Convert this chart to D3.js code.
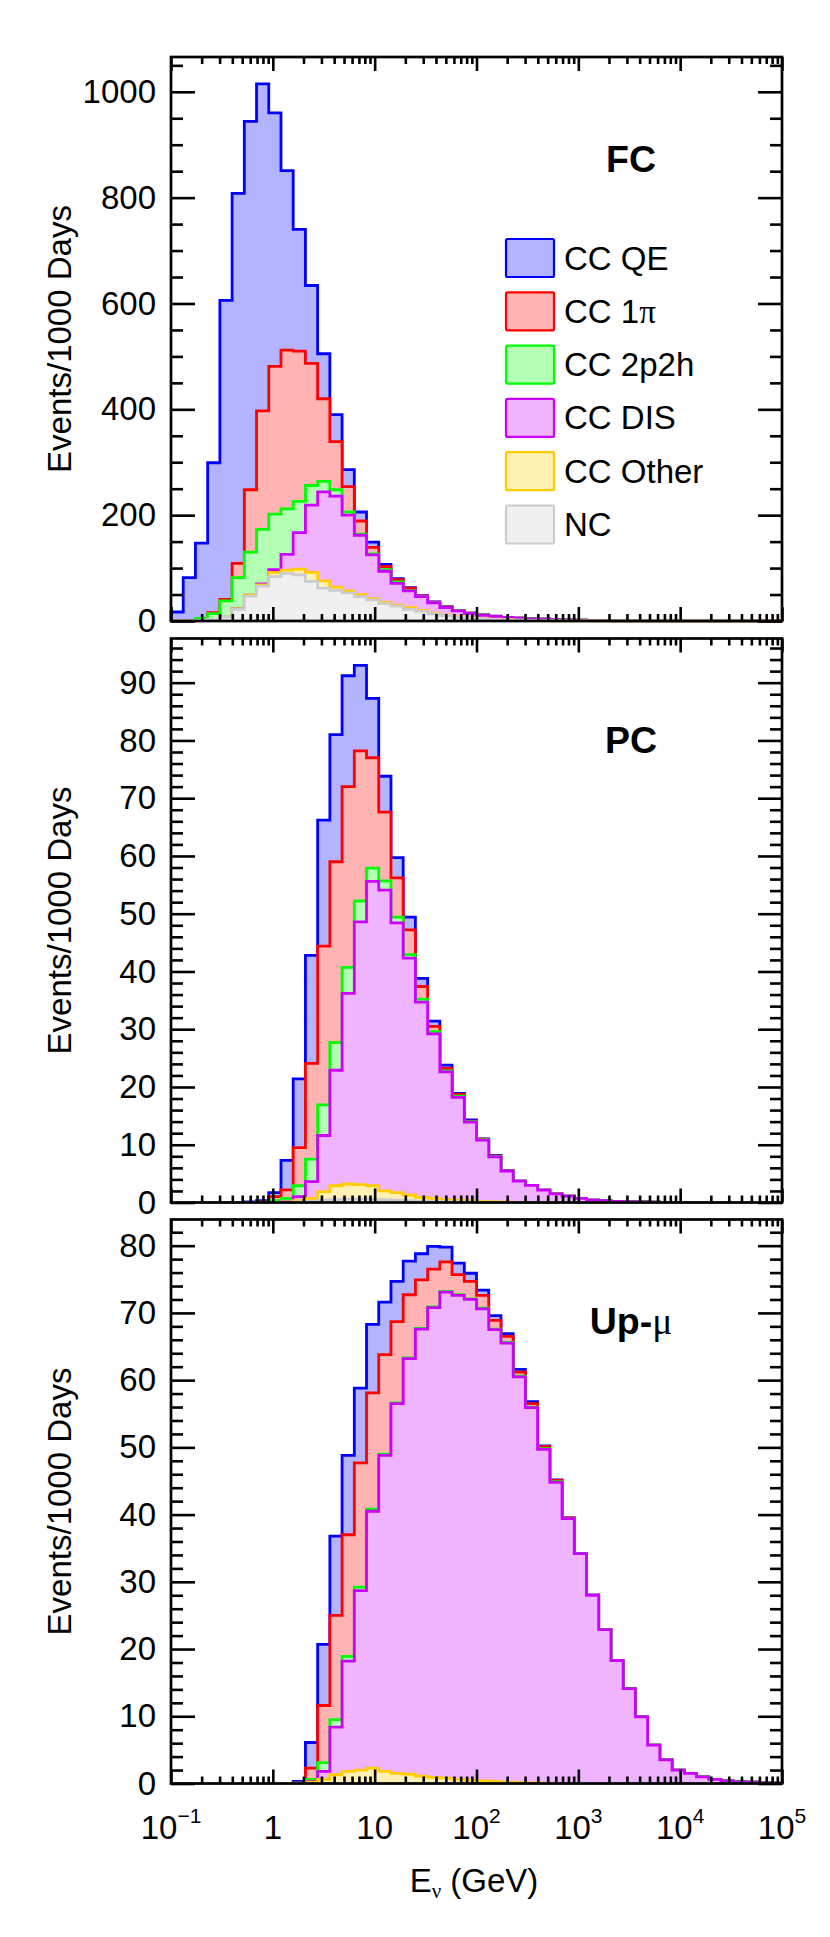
<!DOCTYPE html>
<html>
<head>
<meta charset="utf-8">
<script src="https://cdn.jsdelivr.net/npm/d3@7"></script>
<style>
  body { margin: 0; background: #fff; }
  svg { display: block; }
</style>
</head>
<body>
<div id="chart"></div>
<script>
// 50 log-spaced energy bins, 0.1 GeV .. 1e5 GeV
var nBins = 50;
var binEdges = d3.range(nBins + 1).map(function(i) { return Math.pow(10, -1 + 0.12 * i); });

// stacking order, bottom -> top
var stackKeys = ["NC", "CC Other", "CC DIS", "CC 2p2h", "CC 1π", "CC QE"];
var legendLabels = ["CC QE", "CC 1π", "CC 2p2h", "CC DIS", "CC Other", "NC"];

// ---- FC sample (events / 1000 days per bin)
var fcQE = [17, 81, 142, 283, 565, 699, 696, 618, 479, 339,
            230, 147, 85, 51, 32, 17, 10, 4, 2, 1,
            0.5, 0.5, 0.5, 0.3, 0.2, 0.2, 0.2, 0.1, 0.1, 0.1,
            0.1, 0.05, 0.05, 0, 0, 0, 0, 0, 0, 0,
            0, 0, 0, 0, 0, 0, 0, 0, 0, 0];
var fc1pi = [0, 0, 0, 2, 3, 27, 118, 224, 279, 300,
             284, 231, 156, 91, 48, 25, 12, 6, 4, 4,
             1, 0.5, 0.5, 0.3, 0.2, 0.2, 0.1, 0.1, 0.1, 0.1,
             0.05, 0.05, 0.05, 0.05, 0, 0, 0, 0, 0, 0,
             0, 0, 0, 0, 0, 0, 0, 0, 0, 0];
var fc2p2h = [0, 1, 4, 11, 30, 59, 81, 103, 105, 86,
              59, 37, 20, 12, 6, 2, 2, 3, 3, 1,
              0.5, 0.5, 0.5, 0.4, 0.3, 0.3, 0.2, 0.2, 0.1, 0.1,
              0.05, 0.05, 0, 0, 0, 0, 0, 0, 0, 0,
              0, 0, 0, 0, 0, 0, 0, 0, 0, 0];
var fcDIS = [0, 0, 0, 0, 0, 0, 0, 2, 5, 30,
             69, 127, 168, 172, 143, 112, 83, 59, 41, 32,
             26, 19.5, 14.5, 11, 8.3, 6.3, 5.2, 4.2, 3.6, 3.0,
             2.6, 2.15, 1.65, 1.25, 0.9, 0.65, 0.4, 0.25, 0.15, 0.1,
             0.06, 0.04, 0.02, 0.01, 0, 0, 0, 0, 0, 0];
var fcOther = [0, 0, 0, 0, 0, 1, 2, 2, 8, 6,
               11, 17, 14, 6, 4, 4, 2, 2, 2, 3,
               2, 1.5, 1, 1, 0.8, 0.6, 0.4, 0.3, 0.2, 0.2,
               0.1, 0.05, 0.05, 0, 0, 0, 0, 0, 0, 0,
               0, 0, 0, 0, 0, 0, 0, 0, 0, 0];
var fcNC = [0, 0, 1, 3, 8, 22, 47, 66, 84, 90,
            87, 75, 62, 58, 53, 46, 40, 33, 28, 22,
            18, 13.5, 10, 7, 5.2, 3.9, 2.9, 2.1, 1.5, 1.0,
            0.7, 0.45, 0.3, 0.2, 0.1, 0, 0, 0, 0, 0,
            0, 0, 0, 0, 0, 0, 0, 0, 0, 0];

// ---- PC sample
var pcQE = [0, 0, 0, 0, 0, 0, 0.1, 0.2, 0.7, 5.1,
            11.9, 18.7, 21.8, 22.0, 19.2, 14.8, 10.3, 6.2, 3.5, 2.2,
            1.4, 0.9, 0.6, 0.2, 0.2, 0.05, 0.1, 0.05, 0, 0,
            0, 0, 0, 0, 0, 0, 0, 0, 0, 0,
            0, 0, 0, 0, 0, 0, 0, 0, 0, 0];
var pc1pi = [0, 0, 0, 0, 0, 0, 0, 0.1, 0.7, 1.5,
             6.6, 16.6, 27.5, 31.3, 31.3, 26.0, 19.1, 11.9, 6.8, 4.3,
             2.2, 0.9, 0.4, 0.3, 0.1, 0.05, 0.05, 0, 0, 0,
             0, 0, 0, 0, 0, 0, 0, 0, 0, 0,
             0, 0, 0, 0, 0, 0, 0, 0, 0, 0];
var pc2p2h = [0, 0, 0, 0, 0, 0, 0, 0, 0.3, 0.5,
              1.9, 3.9, 5.3, 4.8, 4.5, 3.6, 2.3, 1.6, 1.0, 0.6,
              0.5, 0.4, 0.2, 0.2, 0.1, 0.1, 0.1, 0, 0, 0,
              0, 0, 0, 0, 0, 0, 0, 0, 0, 0,
              0, 0, 0, 0, 0, 0, 0, 0, 0, 0];
var pcDIS = [0, 0, 0, 0, 0, 0, 0, 0, 0, 0.1,
             0.7, 2.9, 9.7, 20.0, 33.0, 45.5, 52.7, 52.1, 46.7, 41.0,
             33.8, 28.5, 22.1, 17.8, 13.6, 10.6, 7.75, 5.4, 3.7, 2.95,
             2.15, 1.5, 1.1, 0.7, 0.4, 0.3, 0.2, 0.15, 0.1, 0.05,
             0.03, 0, 0, 0, 0, 0, 0, 0, 0, 0];
var pcOther = [0, 0, 0, 0, 0, 0, 0, 0, 0, 0.05,
               0.2, 0.5, 1.5, 2.4, 2.6, 2.5, 2.3, 1.5, 1.3, 1.0,
               0.65, 0.5, 0.35, 0.3, 0.2, 0.15, 0.1, 0.05, 0, 0,
               0, 0, 0, 0, 0, 0, 0, 0, 0, 0,
               0, 0, 0, 0, 0, 0, 0, 0, 0, 0];
var pcNC = [0, 0, 0, 0, 0, 0, 0, 0, 0, 0.05,
            0.1, 0.2, 0.4, 0.5, 0.6, 0.6, 0.6, 0.5, 0.4, 0.3,
            0.25, 0.2, 0.15, 0.1, 0.1, 0.05, 0.05, 0, 0, 0,
            0, 0, 0, 0, 0, 0, 0, 0, 0, 0,
            0, 0, 0, 0, 0, 0, 0, 0, 0, 0];

// ---- Upward-going muon sample
var upQE = [0, 0, 0, 0, 0, 0, 0, 0, 0, 0,
            0.2, 3.8, 9.1, 11.8, 11.8, 11.1, 10.2, 7.8, 6.0, 5.0,
            3.9, 3.4, 2.2, 1.7, 1.2, 0.8, 0.7, 0.4, 0.4, 0.3,
            0.1, 0.05, 0, 0, 0, 0, 0, 0, 0, 0,
            0, 0, 0, 0, 0, 0, 0, 0, 0, 0];
var up1pi = [0, 0, 0, 0, 0, 0, 0, 0, 0, 0,
             0.05, 1.7, 8.5, 15.5, 18.1, 18.5, 17.3, 14.8, 12.1, 9.4,
             7.2, 5.6, 4.4, 3.0, 2.6, 1.9, 1.3, 0.9, 0.6, 0.5,
             0.3, 0.2, 0.1, 0, 0, 0, 0, 0, 0, 0,
             0, 0, 0, 0, 0, 0, 0, 0, 0, 0];
var up2p2h = [0, 0, 0, 0, 0, 0, 0, 0, 0, 0,
              0.05, 0.3, 1.3, 1.1, 0.7, 0.5, 0.3, 0.2, 0.1, 0.1,
              0.1, 0.1, 0.1, 0.1, 0.1, 0.1, 0.1, 0.1, 0.1, 0.1,
              0.1, 0.1, 0, 0, 0, 0, 0, 0, 0, 0,
              0, 0, 0, 0, 0, 0, 0, 0, 0, 0];
var upDIS = [0, 0, 0, 0, 0, 0, 0, 0, 0, 0,
             0, 0.1, 1.2, 7.1, 16.4, 26.7, 38.2, 47.0, 55.0, 61.8,
             66.5, 69.9, 72.3, 72.0, 71.5, 70.2, 67.2, 65.3, 60.35, 55.8,
             49.65, 44.8, 39.4, 34.2, 28.0, 22.9, 18.3, 14.1, 9.9, 5.7,
             3.5, 2.0, 1.5, 1.0, 0.6, 0.4, 0.25, 0.2, 0.1, 0.05];
var upOther = [0, 0, 0, 0, 0, 0, 0, 0, 0, 0,
               0, 0.2, 0.6, 1.3, 1.8, 2.0, 2.3, 1.8, 1.5, 1.4,
               1.1, 0.9, 0.8, 0.6, 0.5, 0.4, 0.3, 0.2, 0.15, 0.1,
               0.05, 0, 0, 0, 0, 0, 0, 0, 0, 0,
               0, 0, 0, 0, 0, 0, 0, 0, 0, 0];
var upNC = [0, 0, 0, 0, 0, 0, 0, 0, 0, 0,
            0, 0, 0, 0, 0, 0, 0, 0, 0, 0,
            0, 0, 0, 0, 0, 0, 0, 0, 0, 0,
            0, 0, 0, 0, 0, 0, 0, 0, 0, 0,
            0, 0, 0, 0, 0, 0, 0, 0, 0, 0];

// tick labels
var fcYTicks = [0, 200, 400, 600, 800, 1000];
var pcYTicks = [0, 10, 20, 30, 40, 50, 60, 70, 80, 90];
var upYTicks = [0, 10, 20, 30, 40, 50, 60, 70, 80];
var xDecades = [0.1, 1, 10, 100, 1000, 10000, 100000];
var xTickLabels = [{b: "10", e: "\u22121"}, {b: "1", e: ""}, {b: "10", e: ""}, {b: "10", e: "2"},
                   {b: "10", e: "3"}, {b: "10", e: "4"}, {b: "10", e: "5"}];

var panels = [
  { title: "FC",  yTicks: fcYTicks, minor: 50, legend: true,
    data: { "CC QE": fcQE, "CC 1π": fc1pi, "CC 2p2h": fc2p2h, "CC DIS": fcDIS, "CC Other": fcOther, "NC": fcNC } },
  { title: "PC",  yTicks: pcYTicks, minor: 2,
    data: { "CC QE": pcQE, "CC 1π": pc1pi, "CC 2p2h": pc2p2h, "CC DIS": pcDIS, "CC Other": pcOther, "NC": pcNC } },
  { title: "Up-μ", yTicks: upYTicks, minor: 2,
    data: { "CC QE": upQE, "CC 1π": up1pi, "CC 2p2h": up2p2h, "CC DIS": upDIS, "CC Other": upOther, "NC": upNC } }
];

var lineColor = { "CC QE": "#0000ff", "CC 1π": "#ff0000", "CC 2p2h": "#00ff00",
                  "CC DIS": "#cc00ff", "CC Other": "#ffcc00", "NC": "#cccccc" };
var fillColor = { "CC QE": "#b3b3ff", "CC 1π": "#ffb3b3", "CC 2p2h": "#b3ffb3",
                  "CC DIS": "#f0b3ff", "CC Other": "#fff0b3", "NC": "#f0f0f0" };

var W = 830, H = 1937;
var left = 171, right = 782;
var panelTops = [57, 638.5, 1219.5], panelH = 564;
var sans = "'Liberation Sans', Arial, Helvetica, sans-serif";
var serif = "'Liberation Serif', 'Times New Roman', serif";

var svg = d3.select("#chart").append("svg").attr("width", W).attr("height", H);
svg.append("rect").attr("width", W).attr("height", H).attr("fill", "#fff");

var x = d3.scaleLog().domain([0.1, 1e5]).range([left, right]);
var xMinor = [];
xDecades.slice(0, -1).forEach(function(d) {
  d3.range(2, 10).forEach(function(k) { xMinor.push(d * k); });
});

// write text with greek letters in a serif face (like ROOT's symbol font)
function greekText(sel, str) {
  str.split(/([\u0370-\u03ff])/).forEach(function(part) {
    if (!part) return;
    var t = sel.append("tspan").text(part);
    if (/[\u0370-\u03ff]/.test(part)) t.attr("font-family", serif).attr("font-weight", "normal");
  });
}

function styleAxis(g) {
  g.select(".domain").remove();
  g.selectAll("line").attr("stroke", "#000").attr("stroke-width", 2.6);
  g.selectAll("text").attr("font-family", sans).attr("font-size", 33).attr("fill", "#000");
}

panels.forEach(function(p, pi) {
  var top = panelTops[pi], bottom = top + panelH;
  var g = svg.append("g");

  var rows = d3.range(nBins).map(function(i) {
    var r = {};
    stackKeys.forEach(function(k) { r[k] = p.data[k][i]; });
    return r;
  });
  var series = d3.stack().keys(stackKeys)(rows);
  var totals = series[series.length - 1].map(function(d) { return d[1]; });

  var y = d3.scaleLinear().domain([0, 1.05 * d3.max(totals)]).range([bottom, top]);

  var step = d3.line()
    .x(function(d) { return x(d[0]); })
    .y(function(d) { return y(d[1]); })
    .curve(d3.curveStepAfter);

  // cumulative histograms, biggest first so smaller ones overdraw
  series.slice().reverse().forEach(function(s) {
    var pts = [[binEdges[0], 0]];
    s.forEach(function(d, i) { pts.push([binEdges[i], d[1]]); });
    pts.push([binEdges[nBins], 0]);
    g.append("path")
      .attr("d", step(pts))
      .attr("fill", fillColor[s.key])
      .attr("stroke", lineColor[s.key])
      .attr("stroke-width", 2.8)
      .attr("stroke-linejoin", "miter");
  });

  var yMinor = d3.range(0, y.domain()[1], p.minor).filter(function(v) { return p.yTicks.indexOf(v) < 0; });

  // left axis
  g.append("g").attr("transform", "translate(" + left + ",0)")
    .call(d3.axisLeft(y).tickValues(p.yTicks).tickSize(-24).tickPadding(15).tickFormat(d3.format("d")))
    .call(styleAxis);
  g.append("g").attr("transform", "translate(" + left + ",0)")
    .call(d3.axisLeft(y).tickValues(yMinor).tickSize(-12).tickFormat(""))
    .call(styleAxis);
  // right axis
  g.append("g").attr("transform", "translate(" + right + ",0)")
    .call(d3.axisRight(y).tickValues(p.yTicks).tickSize(-24).tickFormat(""))
    .call(styleAxis);
  g.append("g").attr("transform", "translate(" + right + ",0)")
    .call(d3.axisRight(y).tickValues(yMinor).tickSize(-12).tickFormat(""))
    .call(styleAxis);
  // bottom and top axes
  g.append("g").attr("transform", "translate(0," + bottom + ")")
    .call(d3.axisBottom(x).tickValues(xDecades).tickSize(-14).tickFormat(""))
    .call(styleAxis);
  g.append("g").attr("transform", "translate(0," + bottom + ")")
    .call(d3.axisBottom(x).tickValues(xMinor).tickSize(-7).tickFormat(""))
    .call(styleAxis);
  g.append("g").attr("transform", "translate(0," + top + ")")
    .call(d3.axisTop(x).tickValues(xDecades).tickSize(-14).tickFormat(""))
    .call(styleAxis);
  g.append("g").attr("transform", "translate(0," + top + ")")
    .call(d3.axisTop(x).tickValues(xMinor).tickSize(-7).tickFormat(""))
    .call(styleAxis);

  // frame
  g.append("rect")
    .attr("x", left).attr("y", top)
    .attr("width", right - left).attr("height", panelH)
    .attr("fill", "none").attr("stroke", "#000").attr("stroke-width", 2.7);

  // y title
  g.append("text")
    .attr("transform", "translate(71," + (top + panelH / 2) + ") rotate(-90)")
    .attr("text-anchor", "middle")
    .attr("font-family", sans).attr("font-size", 33)
    .text("Events/1000 Days");

  // sample name
  var tt = g.append("text")
    .attr("x", 631).attr("y", top + 114.5)
    .attr("text-anchor", "middle")
    .attr("font-family", sans).attr("font-size", 37.5).attr("font-weight", "bold");
  greekText(tt, p.title);

  if (p.legend) {
    var lg = g.append("g");
    legendLabels.forEach(function(k, i) {
      var ty = 239 + i * 53.3;
      lg.append("rect")
        .attr("x", 506).attr("y", ty).attr("width", 48).attr("height", 38).attr("rx", 1.5)
        .attr("fill", fillColor[k]).attr("stroke", lineColor[k]).attr("stroke-width", 2.2);
      var lt = lg.append("text")
        .attr("x", 564).attr("y", ty + 30.5)
        .attr("font-family", sans).attr("font-size", 33);
      greekText(lt, k);
    });
  }

  if (pi === panels.length - 1) {
    xDecades.forEach(function(d, i) {
      var lab = xTickLabels[i];
      var t = g.append("text")
        .attr("x", x(d)).attr("y", 1839)
        .attr("text-anchor", "middle")
        .attr("font-family", sans).attr("font-size", 33);
      t.append("tspan").text(lab.b);
      if (lab.e) t.append("tspan").attr("font-size", 21).attr("dy", -16).text(lab.e);
    });
    var xt = g.append("text")
      .attr("x", 474).attr("y", 1891.5)
      .attr("text-anchor", "middle")
      .attr("font-family", sans).attr("font-size", 33);
    xt.append("tspan").text("E");
    xt.append("tspan").attr("font-family", serif).attr("font-size", 21).attr("dy", 6).text("ν");
    xt.append("tspan").attr("dy", -6).text(" (GeV)");
  }
});
</script>
</body>
</html>
